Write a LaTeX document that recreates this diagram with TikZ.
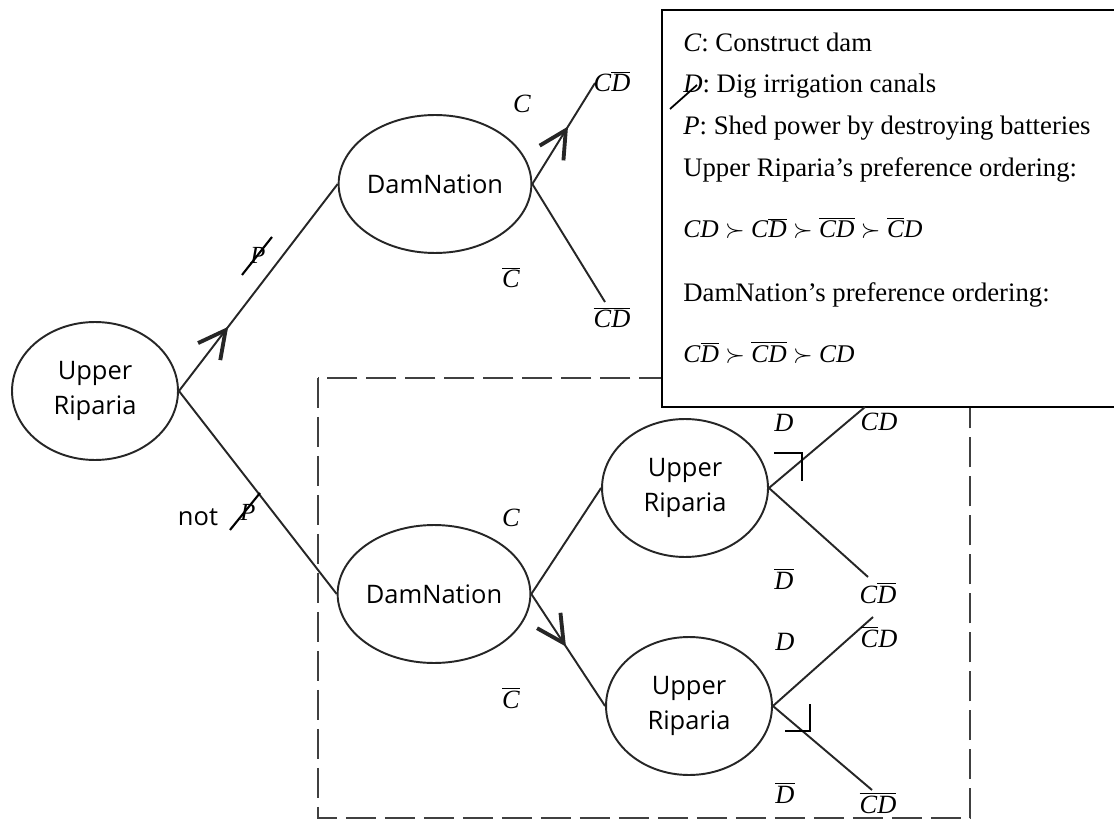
\documentclass[tikz,border=0pt]{standalone}
\usepackage{fontspec}
\setmainfont{Liberation Serif}
\newfontfamily\sansnode{Open Sans}
\usetikzlibrary{shapes.geometric,arrows.meta,decorations.markings}
\newcommand{\ov}[1]{\ensuremath{\overline{\mbox{\itshape #1}}}}

\begin{document}
\begin{tikzpicture}[x=0.02cm, y=-0.02cm,
    player/.style={ellipse, draw=black!85, line width=1.1pt, fill=white, inner sep=0pt,
        minimum width=3.32cm, minimum height=2.76cm, align=center,
        font=\sansnode\fontsize{14.5}{19.8}\selectfont},
    move/.style={draw=black!85, line width=1.1pt},
    lbl/.style={anchor=base, inner sep=0pt, font=\fontsize{15}{17}\selectfont\itshape},
    legendline/.style={anchor=base west, inner sep=0pt, font=\fontsize{15.2}{18}\selectfont},
    midarrow/.style={postaction={decorate}, decoration={markings,
        mark=at position #1 with {\arrow{Straight Barb[length=5.4mm,width=5.6mm,line width=2.2pt]}}}}]
\useasboundingbox (0,0) rectangle (1114,820);
\draw[black!75, line width=1.3pt, dash pattern=on 0.6cm off 0.18cm] (318,378) rectangle (970,818);
\fill[white] (662,10) rectangle (1114,407);
\draw[line width=0.9pt] (1114,10) -- (662,10) -- (662,407) -- (1114,407);

\node[player] (ur0) at (95,391) {Upper\\Riparia};
\node[player] (dn1) at (435,184) {DamNation};
\node[player] (dn2) at (434,594) {DamNation};
\node[player] (ur1) at (685,488) {Upper\\Riparia};
\node[player] (ur2) at (689,706) {Upper\\Riparia};

\coordinate (e1) at (595,83);
\coordinate (e2) at (605,302);
\coordinate (e3) at (865,407);
\coordinate (e4) at (868,577);
\coordinate (e5) at (873,617);
\coordinate (e6) at (872,790);

\draw[move,midarrow=0.31] (ur0.east) -- (dn1.west);
\draw[move] (ur0.east) -- (dn2.west);
\draw[move,midarrow=0.57] (dn1.east) -- (e1);
\draw[move] (dn1.east) -- (e2);
\draw[move] (dn2.east) -- (ur1.west);
\draw[move,midarrow=0.47] (dn2.east) -- (ur2.west);
\draw[move] (ur1.east) -- (e3);
\draw[move] (ur1.east) -- (e4);
\draw[move] (ur2.east) -- (e5);
\draw[move] (ur2.east) -- (e6);

\node[lbl] (o1) at (612,92) {C\ov{D}};
\node[lbl] (o2) at (612,328) {\ov{CD}};
\node[lbl] (o3) at (879,430) {CD};
\node[lbl] (o4) at (878,603) {C\ov{D}};
\node[lbl] (o5) at (879,647) {\ov{C}D};
\node[lbl] (o6) at (878,813) {\ov{CD}};

\node[lbl] (c1) at (522,113) {C};
\node[lbl] (c2) at (511,288) {\ov{C}};
\node[lbl] (c3) at (511,526) {C};
\node[lbl] (c4) at (511,708) {\ov{C}};
\node[lbl] (d1) at (784,431) {D};
\node[lbl] (d2) at (784,589) {\ov{D}};
\node[lbl] (d3) at (785,650) {D};
\node[lbl] (d4) at (785,803) {\ov{D}};

\node[lbl, font=\fontsize{14}{16}\selectfont\itshape] (p1) at (258,264) {P};
\draw[line width=1.2pt] ([shift={(-16,19)}]p1.center) -- ([shift={(14,-19)}]p1.center);
\node[font=\sansnode\fontsize{14.5}{17}\selectfont, inner sep=0pt] (nt) at (198,517) {not};
\node[lbl, font=\fontsize{14}{16}\selectfont\itshape] (p2) at (248,520) {P};
\draw[line width=1.2pt] ([shift={(-18,18)}]p2.center) -- ([shift={(12,-19)}]p2.center);

\draw[line width=0.8pt] (774,453) -- (802,453) -- (802,481);
\draw[line width=0.8pt] (810,704) -- (810,731) -- (785,731);

\node[legendline] (lg1) at (683,52) {\textit{C}: Construct dam};
\node[legendline] (lg2) at (683,93) {\textit{D}: Dig irrigation canals};
\node[legendline] (lg3) at (683,135) {\textit{P}: Shed power by destroying batteries};
\node[legendline] (lg4) at (683,177) {Upper Riparia’s preference ordering:};
\node[legendline, font=\fontsize{14.5}{17}\selectfont] (lg5) at (683,238)
    {\textit{CD} $\succ$ \textit{C}\ov{D} $\succ$ \ov{CD} $\succ$ \ov{C}\textit{D}};
\node[legendline] (lg6) at (683,302) {DamNation’s preference ordering:};
\node[legendline, font=\fontsize{14.5}{17}\selectfont] (lg7) at (683,362)
    {\textit{C}\ov{D} $\succ$ \ov{CD} $\succ$ \textit{CD}};
\draw[line width=1pt] (670,109) -- (697,85);
\end{tikzpicture}
\end{document}
